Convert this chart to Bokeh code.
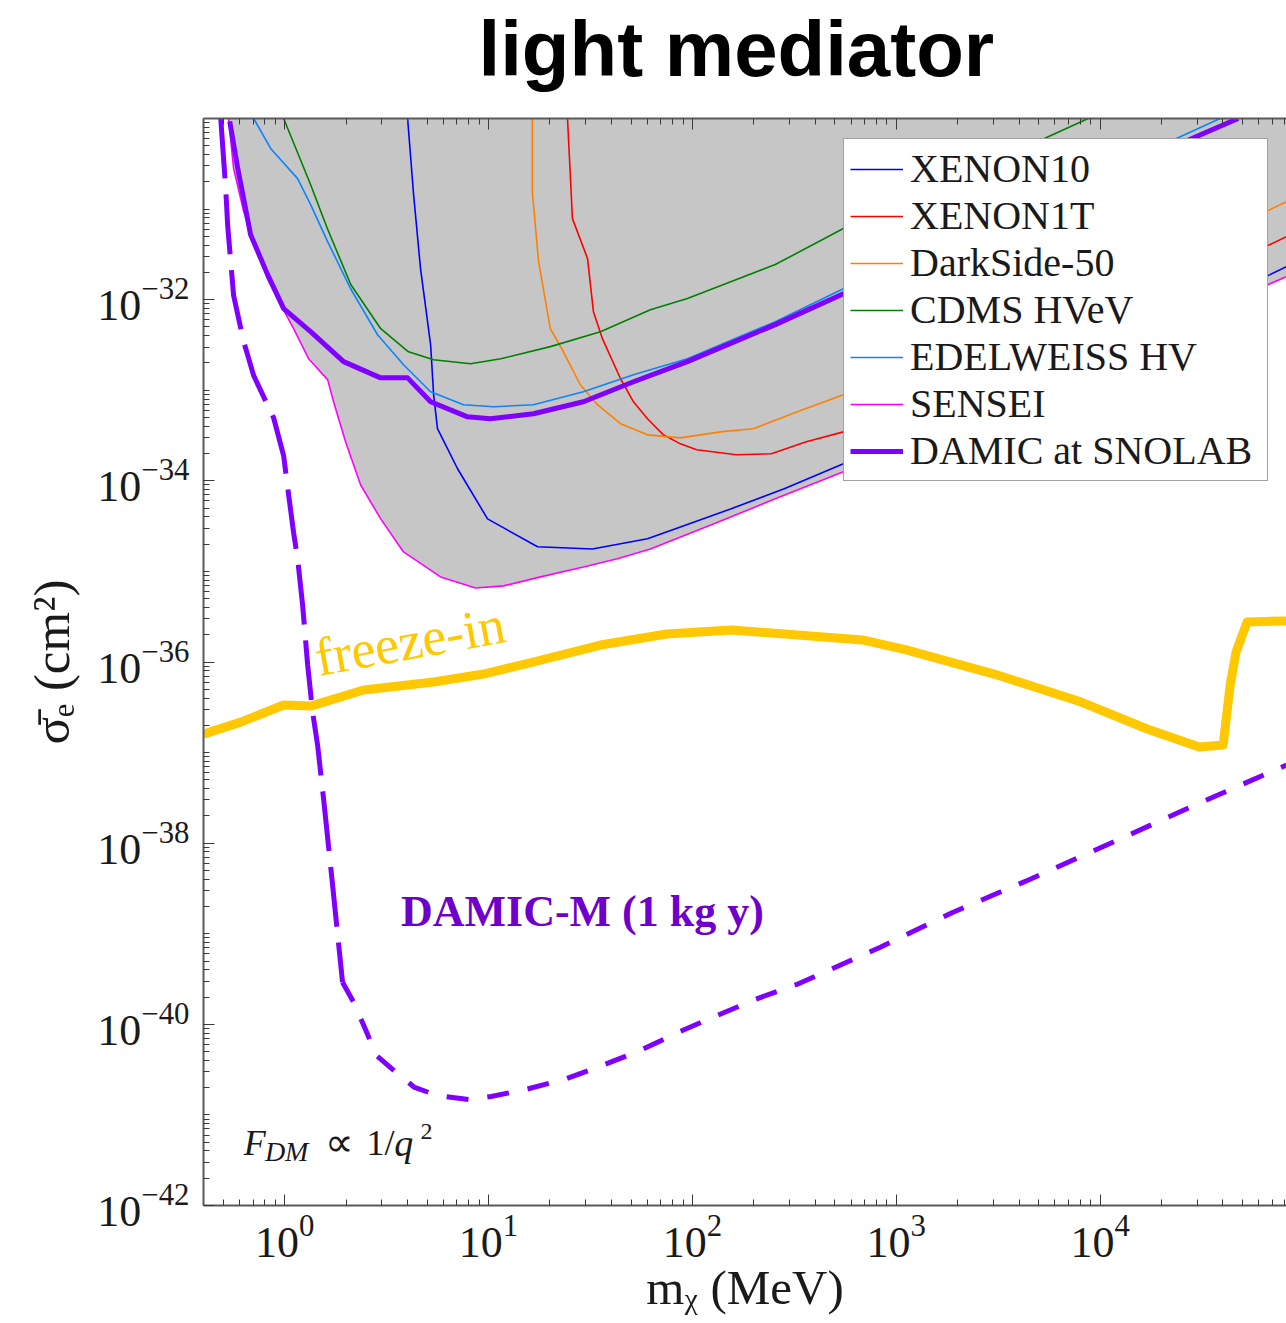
from bokeh.plotting import figure
from bokeh.layouts import column
from bokeh.models import (Range1d, FixedTicker, LogAxis, Label, Legend, LegendItem)
from bokeh.embed import file_html
from bokeh.resources import INLINE

# ---------------- data (mass in MeV, cross-section in cm^2) ----------------
sensei_m = [0.531, 0.562, 0.630, 0.721, 0.825, 0.956, 1.107, 1.311, 1.625, 1.738, 1.99, 2.36,
            2.96, 3.83, 5.82, 8.64, 11.85, 18.0, 29.2, 42.9, 62.2, 134, 255, 550, 6.81e4, 8.2e4]
sensei_s = [1.0e-30, 2.8e-31, 9.4e-32, 3.66e-32, 1.71e-32, 8.8e-33, 4.78e-33, 2.23e-33, 1.31e-33,
            7.46e-34, 2.70e-34, 9.0e-35, 3.8e-35, 1.64e-35, 8.7e-36, 6.57e-36, 6.92e-36, 8.7e-36,
            1.12e-35, 1.38e-35, 1.77e-35, 3.52e-35, 6.33e-35, 1.26e-34, 1.50e-32, 1.80e-32]

xenon10_m = [4.01, 4.29, 4.64, 5.20, 5.38, 5.62, 7.05, 9.89, 17.4, 32.3, 60.2, 87.3, 155, 282,
             550, 6.81e4, 8.2e4]
xenon10_s = [1.0e-30, 1.45e-31, 2.2e-32, 3.18e-33, 8.91e-34, 3.76e-34, 1.36e-34, 3.8e-35,
             1.87e-35, 1.77e-35, 2.29e-35, 3.1e-35, 4.91e-35, 8.16e-35, 1.54e-34, 1.89e-32, 2.32e-32]

xenon1t_m = [24.4, 25.8, 30.6, 32.7, 36.2, 44.4, 51.4, 60.2, 72.1, 87.3, 105, 164, 244, 362,
             550, 6.81e4, 8.2e4]
xenon1t_s = [1.0e-30, 7.85e-32, 2.84e-32, 7.37e-33, 3.71e-33, 1.34e-33, 7.46e-34, 4.84e-34,
             3.22e-34, 2.56e-34, 2.20e-34, 1.94e-34, 1.99e-34, 2.70e-34, 3.47e-34, 4.06e-32, 4.97e-32]

darkside_m = [16.4, 16.4, 17.6, 20.1, 23.3, 28.2, 34.2, 44.4, 60.2, 87.3, 137, 199, 327, 550,
              6.81e4, 8.2e4]
darkside_s = [1.0e-30, 1.56e-31, 2.63e-32, 4.78e-33, 2.66e-33, 1.15e-33, 6.92e-34, 4.27e-34,
              3.22e-34, 2.98e-34, 3.47e-34, 3.76e-34, 5.78e-34, 8.91e-34, 9.86e-32, 1.21e-31]

cdms_m = [0.989, 1.34, 1.62, 2.11, 2.96, 4.05, 5.38, 8.16, 11.5, 20.1, 35.4, 62.2, 94.5, 255,
          550, 4590, 8730]
cdms_s = [1.0e-30, 1.87e-31, 6.1e-32, 1.47e-32, 4.78e-33, 2.66e-33, 2.17e-33, 1.96e-33, 2.23e-33,
          3.03e-33, 4.43e-33, 7.76e-33, 1.03e-32, 2.44e-32, 6.1e-32, 5.16e-31, 1.0e-30]

edelweiss_m = [0.705, 0.854, 1.158, 1.341, 1.625, 2.107, 2.857, 3.83, 5.20, 7.54, 10.6, 16.6,
               29.2, 51.4, 94.5, 255, 550, 2.04e4, 3.87e4]
edelweiss_s = [1.0e-30, 4.67e-31, 2.17e-31, 1.12e-31, 4.38e-32, 1.32e-32, 4.10e-33, 1.91e-33,
               9.62e-34, 6.92e-34, 6.57e-34, 6.92e-34, 9.62e-34, 1.48e-33, 2.23e-33, 5.71e-33,
               1.32e-32, 5.16e-31, 1.0e-30]

damic_m = [0.538, 0.589, 0.681, 0.825, 0.989, 1.341, 1.946, 2.956, 4.01, 5.20, 7.89, 10.2, 16.6,
           29.2, 51.4, 94.5, 255, 550, 2.41e4, 4.75e4]
damic_s = [9.3e-31, 2.8e-31, 5.22e-32, 1.89e-32, 7.96e-33, 4.43e-33, 2.07e-33, 1.37e-33, 1.37e-33,
           7.46e-34, 5.09e-34, 4.84e-34, 5.5e-34, 7.46e-34, 1.24e-33, 2.07e-33, 5.3e-33, 1.16e-32,
           5.16e-31, 1.0e-30]

freezein_m = [0.4, 0.609, 0.989, 1.341, 2.44, 5.38, 9.45, 16.6, 35.4, 74.6, 155, 681, 1119, 3020,
              8070, 1.70e4, 3.06e4, 4.01e4, 4.34e4, 4.64e4, 5.26e4, 8.2e4]
freezein_s = [1.6e-37, 2.17e-37, 3.35e-37, 3.26e-37, 4.91e-37, 6.01e-37, 7.36e-37, 1.0e-36,
              1.54e-36, 2.04e-36, 2.26e-36, 1.75e-36, 1.36e-36, 7.36e-37, 3.61e-37, 1.82e-37,
              1.15e-37, 1.21e-37, 5.57e-37, 1.29e-36, 2.77e-36, 2.84e-36]

damicm_m = [0.486, 0.514, 0.526, 0.562, 0.630, 0.705, 0.883, 0.989, 1.046, 1.107, 1.158, 1.225,
            1.297, 1.371, 1.451, 1.553, 1.719, 1.923, 2.18, 2.49, 2.82, 3.66, 4.34, 5.62, 7.98,
            10.3, 15.2, 23.6, 36.2, 55.6, 85.4, 133, 204, 327, 835, 1900, 4540, 1.16e4, 2.99e4,
            8.2e4]
damicm_s = [1.0e-30, 1.69e-31, 6.41e-32, 1.11e-32, 3.43e-33, 1.45e-33, 4.97e-34, 1.89e-34, 7.0e-35,
            2.66e-35, 1.38e-35, 4.26e-36, 9.27e-37, 2.81e-37, 1.21e-37, 3.06e-38, 3.43e-39,
            2.91e-40, 1.75e-40, 8.81e-41, 4.54e-41, 2.73e-41, 2.01e-41, 1.64e-41, 1.48e-41,
            1.60e-41, 1.91e-41, 2.47e-41, 3.52e-41, 5.16e-41, 8.17e-41, 1.26e-40, 1.89e-40,
            2.77e-40, 7.10e-40, 1.73e-39, 4.0e-39, 1.03e-38, 2.70e-38, 7.28e-38]
damicm_steep_n = 18   # points on the steep (low-mass) branch

x_major = [1, 10, 100, 1e3, 1e4]
y_major = [1e-42, 1e-40, 1e-38, 1e-36, 1e-34, 1e-32]

SERIF = "Liberation Serif"
TITLE_H = 98

# ---------------- title strip (frame aligned with main plot frame) ----------------
tf = figure(width=1286, height=TITLE_H, x_range=Range1d(203, 1286), y_range=Range1d(TITLE_H, 0),
            output_backend="svg", toolbar_location=None, x_axis_location=None,
            y_axis_location=None, min_border=0, outline_line_color=None,
            background_fill_color="white", border_fill_color="white")
tf.grid.visible = False
tf.add_layout(Label(x=478, y=48, text="light mediator", text_font="Liberation Sans",
                    text_font_size="78px", text_font_style="bold", text_color="black",
                    text_baseline="middle"))

# ---------------- main figure ----------------
p = figure(width=1286, height=1323 - TITLE_H, x_axis_type="log", y_axis_type="log",
           x_range=Range1d(0.4, 8.2e4), y_range=Range1d(1e-42, 1e-30),
           output_backend="svg", toolbar_location=None,
           min_border_left=203, min_border_right=0, min_border_top=118 - TITLE_H,
           min_border_bottom=118,
           background_fill_color="white", border_fill_color="white", outline_line_color=None)
p.grid.visible = False

x_minor = [k * 10.0 ** n for n in range(-1, 5) for k in range(2, 10)]
y_minor = [k * 10.0 ** n for n in range(-42, -30) for k in range(1, 10)
           if not (k == 1 and n % 2 == 0)]
xticker = FixedTicker(ticks=x_major, minor_ticks=x_minor)
yticker = FixedTicker(ticks=y_major, minor_ticks=y_minor)

def style_axis(ax):
    ax.axis_line_color = "#5a5a5a"
    ax.axis_line_width = 2
    ax.major_tick_line_color = "#3a3a3a"
    ax.minor_tick_line_color = "#3a3a3a"
    ax.major_tick_in = 11
    ax.major_tick_out = 0
    ax.minor_tick_in = 6
    ax.minor_tick_out = 0
    ax.major_label_text_font = SERIF
    ax.major_label_text_font_size = "44px"
    ax.major_label_text_color = "#1a1a1a"
    ax.axis_label_text_font = SERIF
    ax.axis_label_text_font_size = "49px"
    ax.axis_label_text_font_style = "normal"
    ax.axis_label_text_color = "#1a1a1a"

xa = p.xaxis[0]
xa.ticker = xticker
style_axis(xa)
xa.major_label_standoff = 10
xa.axis_label = "mᵪ (MeV)"
xa.axis_label_standoff = 0

ya = p.yaxis[0]
ya.ticker = yticker
style_axis(ya)
ya.major_label_standoff = 14
ya.axis_label = "σ̄ₑ (cm²)"
ya.axis_label_text_font_size = "51px"
ya.axis_label_standoff = 14

top = LogAxis(ticker=xticker)
style_axis(top)
top.major_label_text_font_size = "1px"
top.major_label_text_alpha = 0
top.major_label_standoff = 0
top.axis_label_standoff = 0
p.add_layout(top, "above")

# excluded region
p.varea(x=sensei_m, y1=sensei_s, y2=[1e-30] * len(sensei_m), fill_color="#c6c6c6")

r_x10 = p.line(xenon10_m, xenon10_s, line_color="#0000ff", line_width=1.6)
r_x1t = p.line(xenon1t_m, xenon1t_s, line_color="#ff0000", line_width=1.6)
r_ds = p.line(darkside_m, darkside_s, line_color="#ff8000", line_width=1.6)
r_cd = p.line(cdms_m, cdms_s, line_color="#008000", line_width=1.6)
r_ed = p.line(edelweiss_m, edelweiss_s, line_color="#0a84ff", line_width=1.6)
r_se = p.line(sensei_m, sensei_s, line_color="#ff00ff", line_width=1.6)
r_da = p.line(damic_m, damic_s, line_color="#8000ff", line_width=5, line_join="round")

p.line(freezein_m, freezein_s, line_color="#ffc800", line_width=9, line_join="round")

n = damicm_steep_n
p.line(damicm_m[:n], damicm_s[:n], line_color="#8000ff", line_width=5, line_dash="60 16")
p.line(damicm_m[n - 1:], damicm_s[n - 1:], line_color="#8000ff", line_width=5, line_dash="22 19")

# text annotations
p.add_layout(Label(x=1.419, y=1.1e-36, text="freeze-in", angle=0.18, text_font=SERIF,
                   text_font_size="54px", text_color="#ffc800", text_baseline="alphabetic"))
p.add_layout(Label(x=3.72, y=1.78e-39, text="DAMIC-M (1 kg y)", text_font=SERIF,
                   text_font_size="44px", text_font_style="bold", text_color="#6f00cc",
                   text_baseline="alphabetic"))
for (lx, ly, t, fs, st) in [(0.63, 4.9e-42, "F", "36px", "italic"),
                            (0.80, 3.9e-42, "DM", "28px", "italic"),
                            (1.58, 4.9e-42, "∝", "40px", "normal"),
                            (2.52, 4.9e-42, "1/", "36px", "normal"),
                            (3.45, 4.9e-42, "q", "38px", "italic"),
                            (4.64, 6.6e-42, "2", "24px", "normal")]:
    p.add_layout(Label(x=lx, y=ly, text=t, text_font=SERIF, text_font_size=fs,
                       text_font_style=st, text_color="#1a1a1a", text_baseline="alphabetic"))

legend = Legend(items=[LegendItem(label="XENON10", renderers=[r_x10]),
                       LegendItem(label="XENON1T", renderers=[r_x1t]),
                       LegendItem(label="DarkSide-50", renderers=[r_ds]),
                       LegendItem(label="CDMS HVeV", renderers=[r_cd]),
                       LegendItem(label="EDELWEISS HV", renderers=[r_ed]),
                       LegendItem(label="SENSEI", renderers=[r_se]),
                       LegendItem(label="DAMIC at SNOLAB", renderers=[r_da])],
                location=(640, 724), label_text_font=SERIF, label_text_font_size="40px",
                label_text_color="#1a1a1a", glyph_width=53, glyph_height=40, label_height=40,
                label_width=351, label_standoff=7, spacing=0, padding=6, margin=0,
                border_line_color="#444444", border_line_width=1.5,
                background_fill_color="white", background_fill_alpha=1.0)
p.add_layout(legend)

layout = column(tf, p, spacing=0)
open("out.html", "w").write(file_html(layout, INLINE))
